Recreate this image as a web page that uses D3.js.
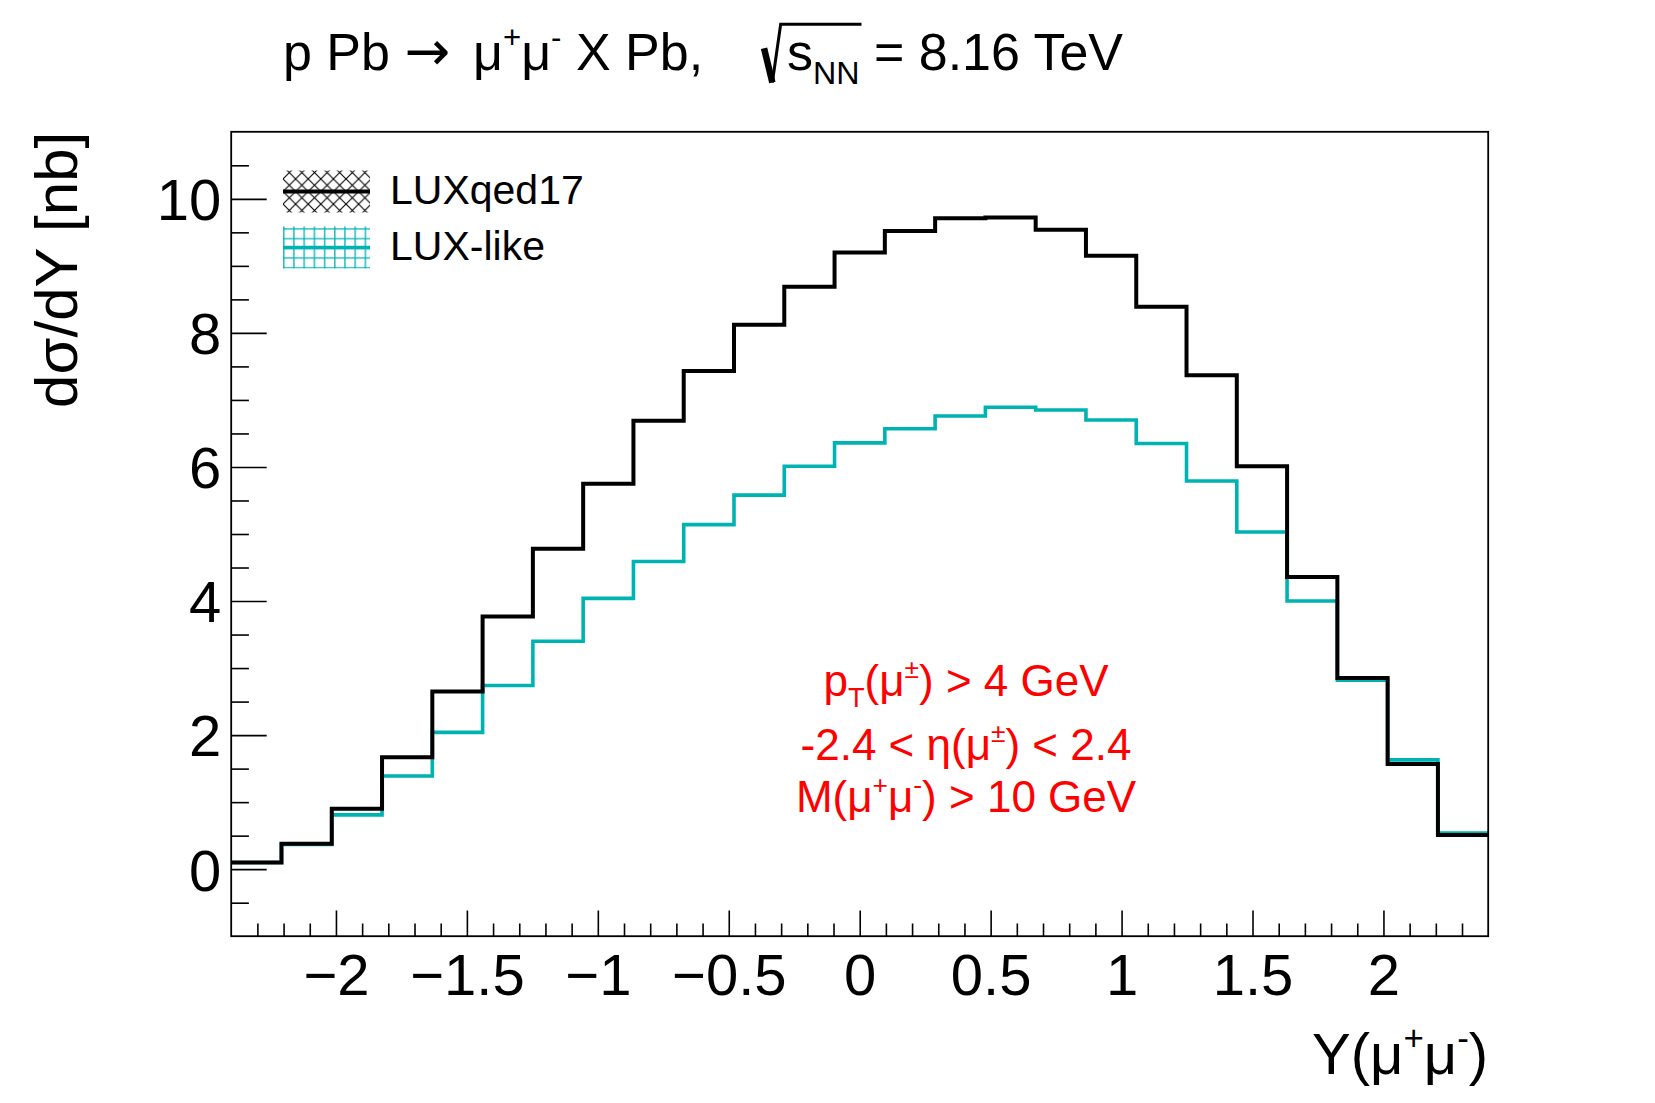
<!DOCTYPE html>
<html>
<head>
<meta charset="utf-8">
<script src="https://cdn.jsdelivr.net/npm/d3@7"></script>
<style>
  body { margin: 0; background: #fff; }
  svg { display: block; }
  text { font-family: "Liberation Sans", Arial, Helvetica, sans-serif; white-space: pre; }
</style>
</head>
<body>
<svg id="chart" width="1655" height="1103"></svg>
<script>
// histogram binning: 25 bins over Y in [-2.4, 2.4]
const binLow = -2.4, binHigh = 2.4, nBins = 25;

// dsigma/dY [nb] per bin
const luxqed17 = [0.10, 0.38, 0.90, 1.67, 2.65, 3.77, 4.78, 5.75, 6.69, 7.43, 8.12, 8.69, 9.20,
                  9.52, 9.71, 9.72, 9.54, 9.15, 8.39, 7.37, 6.01, 4.36, 2.85, 1.57, 0.51];
const luxLike  = [0.10, 0.37, 0.81, 1.39, 2.04, 2.74, 3.40, 4.04, 4.59, 5.14, 5.58, 6.01, 6.36,
                  6.57, 6.76, 6.89, 6.85, 6.70, 6.35, 5.79, 5.03, 4.00, 2.82, 1.63, 0.54];

const seriesNames = ["LUXqed17", "LUX-like"];
const xMajorTicks = [-2, -1.5, -1, -0.5, 0, 0.5, 1, 1.5, 2];
const yMajorTicks = [0, 2, 4, 6, 8, 10];

const svg = d3.select("#chart");
const frame = {left: 231.2, right: 1488.2, top: 131.8, bottom: 936.2};

const x = d3.scaleLinear().domain([binLow, binHigh]).range([frame.left, frame.right]);
const y = d3.scaleLinear().domain([-1, 11]).range([frame.bottom, frame.top]);

const binW = (binHigh - binLow) / nBins;
const edges = d3.range(nBins + 1).map(i => binLow + i * binW);

// lays out text runs (with sub/superscripts) side by side, returns positions
function richText(parent, px, py, runs, size, anchor, color) {
  const g = parent.append("g");
  let cx = 0;
  runs.forEach(r => {
    r.x0 = cx;
    if (r.gap) { cx += r.gap * size; r.x1 = cx; return; }
    const fs = size * (r.scale || 1);
    const t = g.append("text")
      .attr("x", cx)
      .attr("y", (r.shift || 0) * size)
      .attr("font-size", fs)
      .attr("fill", color)
      .attr("xml:space", "preserve")
      .text(r.text);
    if (r.family) t.style("font-family", r.family);
    cx += t.node().getComputedTextLength();
    r.x1 = cx;
  });
  const off = anchor === "middle" ? -cx / 2 : anchor === "end" ? -cx : 0;
  g.attr("transform", `translate(${px + off},${py})`);
  return {g, width: cx, runs};
}
const sup = t => ({text: t, scale: 0.6, shift: -0.42});
const sub = t => ({text: t, scale: 0.62, shift: 0.26});

// ---- title
const titleSize = 52;
const titleRuns = [
  {text: "p Pb "}, {text: "\u2192", family: "DejaVu Sans", scale: 1.05}, {gap: 0.16}, {text: " \u03bc"}, sup("+"), {text: "\u03bc"}, sup("-"),
  {text: " X Pb,    "}, {gap: 0.5}, {text: "s"}, sub("NN"), {text: " = 8.16 TeV"}
];
const title = richText(svg, 283, 70, titleRuns, titleSize, "start", "#000");
{
  const r0 = titleRuns[8].x0, rEnd = titleRuns[10].x1 + 2, fs = titleSize;
  title.g.append("path")
    .attr("d", `M${r0 + 0.06 * fs},${-0.42 * fs} L${r0 + 0.22 * fs},${0.24 * fs}`)
    .attr("stroke", "#000").attr("stroke-width", 6.5).attr("fill", "none");
  title.g.append("path")
    .attr("d", `M${r0 + 0.22 * fs},${0.24 * fs} L${r0 + 0.38 * fs},${-0.88 * fs} H${rEnd}`)
    .attr("stroke", "#000").attr("stroke-width", 3).attr("fill", "none");
}

// ---- axes (ticks inside the frame, ROOT style)
const yMinor = d3.range(-0.5, 11, 0.5).filter(v => !yMajorTicks.includes(v));
const xMinor = d3.range(-23, 24).map(v => v / 10).filter(v => !xMajorTicks.includes(v));

svg.append("g")
  .attr("transform", `translate(${frame.left},0)`)
  .call(d3.axisLeft(y).tickValues(yMinor).tickSize(-17.7).tickFormat(""))
  .call(g => g.select(".domain").remove());
const yAxis = svg.append("g")
  .attr("transform", `translate(${frame.left},0)`)
  .call(d3.axisLeft(y).tickValues(yMajorTicks).tickSize(-35.5).tickPadding(10).tickFormat(d3.format("d")))
  .call(g => g.select(".domain").remove());
yAxis.selectAll("text").attr("font-size", 58).attr("font-family", null).attr("dy", "0.36em");

svg.append("g")
  .attr("transform", `translate(0,${frame.bottom})`)
  .call(d3.axisBottom(x).tickValues(xMinor).tickSize(-12.7).tickFormat(""))
  .call(g => g.select(".domain").remove());
const xAxis = svg.append("g")
  .attr("transform", `translate(0,${frame.bottom})`)
  .call(d3.axisBottom(x).tickValues(xMajorTicks).tickSize(-25.7).tickPadding(17.6).tickFormat(d3.format("~g")))
  .call(g => g.select(".domain").remove());
xAxis.selectAll("text").attr("font-size", 58).attr("font-family", null);
svg.selectAll(".tick line").attr("stroke", "#000").attr("stroke-width", 1.6);

// axis titles
svg.append("text")
  .attr("transform", `translate(77,${frame.top}) rotate(-90)`)
  .attr("text-anchor", "end")
  .attr("font-size", 60)
  .text("d\u03c3/dY [nb]");

richText(svg, frame.right, 1074, [
  {text: "Y(\u03bc"}, sup("+"), {text: "\u03bc"}, sup("-"), {text: ")"}
], 58, "end", "#000");

// ---- histograms
function histPath(vals) {
  let d = `M${x(edges[0])},${y(vals[0])}`;
  vals.forEach((v, i) => {
    if (i > 0) d += `V${y(v)}`;
    d += `H${x(edges[i + 1])}`;
  });
  return d;
}
const plot = svg.append("g");
plot.append("path").attr("d", histPath(luxLike))
  .attr("fill", "none").attr("stroke", "#00b3b3").attr("stroke-width", 3.6);
plot.append("path").attr("d", histPath(luxqed17))
  .attr("fill", "none").attr("stroke", "#000").attr("stroke-width", 4);

// frame
svg.append("rect")
  .attr("x", frame.left).attr("y", frame.top)
  .attr("width", frame.right - frame.left).attr("height", frame.bottom - frame.top)
  .attr("fill", "none").attr("stroke", "#000").attr("stroke-width", 1.8);

// ---- legend
const defs = svg.append("defs");
defs.append("pattern").attr("id", "xhatch").attr("patternUnits", "userSpaceOnUse")
  .attr("width", 12.6).attr("height", 12.6)
  .append("path").attr("d", "M0,0L12.6,12.6M12.6,0L0,12.6")
  .attr("stroke", "#000").attr("stroke-width", 1.1);
defs.append("pattern").attr("id", "grid").attr("patternUnits", "userSpaceOnUse")
  .attr("width", 10.2).attr("height", 9.7)
  .append("path").attr("d", "M0.8,0V9.7M0,0.8H10.2")
  .attr("stroke", "#00b3b3").attr("stroke-width", 1.3);

const legendColors = ["#000", "#00b3b3"];
const legendFills = ["url(#xhatch)", "url(#grid)"];
const legend = svg.append("g").attr("transform", "translate(283,191.5)");
seriesNames.forEach((name, i) => {
  const row = legend.append("g").attr("transform", `translate(0,${i * 56})`);
  row.append("rect").attr("x", 0).attr("y", -21).attr("width", 87).attr("height", 42)
    .attr("fill", legendFills[i]);
  row.append("line").attr("x1", 0).attr("x2", 87).attr("y1", 0).attr("y2", 0)
    .attr("stroke", legendColors[i]).attr("stroke-width", i === 0 ? 4 : 3.6);
  row.append("text").attr("x", 107).attr("y", 12).attr("font-size", 41).text(name);
});

// ---- cut annotation
const cutSize = 44, cutX = 966;
richText(svg, cutX, 696, [
  {text: "p"}, sub("T"), {text: "(\u03bc"}, sup("\u00b1"), {text: ") > 4 GeV"}
], cutSize, "middle", "#ff0000");
richText(svg, cutX, 760, [
  {text: "-2.4 < \u03b7(\u03bc"}, sup("\u00b1"), {text: ") < 2.4"}
], cutSize, "middle", "#ff0000");
richText(svg, cutX, 812, [
  {text: "M(\u03bc"}, sup("+"), {text: "\u03bc"}, sup("-"), {text: ") > 10 GeV"}
], cutSize, "middle", "#ff0000");
</script>
</body>
</html>
